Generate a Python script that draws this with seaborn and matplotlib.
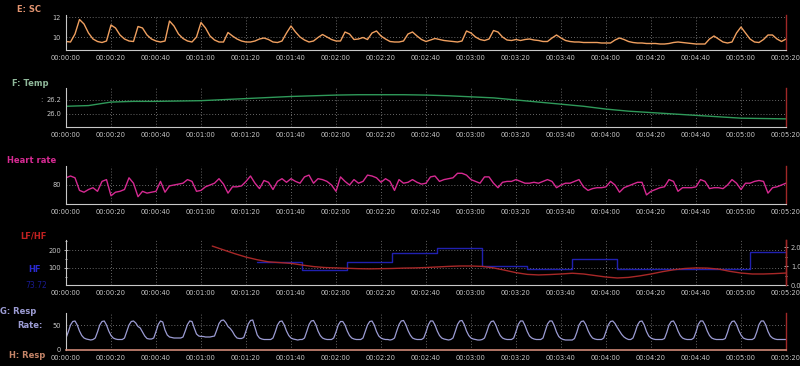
import numpy as np
import matplotlib
matplotlib.use("agg")
import matplotlib.pyplot as plt
from matplotlib.ticker import MultipleLocator, FixedLocator, FuncFormatter
import seaborn as sns

# --- data (time in seconds) ---
t_2s = np.arange(0, 321, 2)
t_1s = np.arange(0, 321)

sc = [
    9.55, 9.5, 10.3, 11.75, 11.3, 10.4, 9.8, 9.55, 9.45, 9.6,
    11.2, 10.9, 10.2, 9.8, 9.6, 9.55, 11.05, 10.9, 10.2, 9.8,
    9.6, 9.5, 9.6, 11.6, 11.1, 10.3, 9.85, 9.6, 9.5, 10.0,
    11.45, 10.9, 10.1, 9.7, 9.5, 9.5, 10.45, 10.1, 9.8, 9.6,
    9.5, 9.5, 9.6, 9.8, 9.9, 9.75, 9.5, 9.45, 9.6, 10.4,
    11.1, 10.5, 10.0, 9.7, 9.5, 9.6, 9.95, 10.25, 10.0, 9.75,
    9.6, 9.6, 10.5, 10.3, 9.75, 9.8, 9.95, 9.75, 10.4, 10.6,
    10.1, 9.8, 9.55, 9.5, 9.5, 9.6, 10.3, 10.5, 10.1, 9.75,
    9.55, 9.7, 9.85, 9.75, 9.65, 9.6, 9.55, 9.5, 9.6, 10.6,
    10.4, 10.0, 9.75, 9.65, 9.8, 10.65, 10.5, 10.0, 9.7, 9.65,
    9.75, 9.65, 9.75, 9.8, 9.7, 9.65, 9.55, 9.55, 9.9, 10.2,
    9.9, 9.65, 9.55, 9.5, 9.5, 9.45, 9.45, 9.45, 9.45, 9.4,
    9.4, 9.4, 9.7, 9.9, 9.75, 9.55, 9.45, 9.4, 9.4, 9.35,
    9.35, 9.35, 9.3, 9.3, 9.35, 9.45, 9.5, 9.45, 9.4, 9.35,
    9.3, 9.3, 9.3, 9.8, 10.1, 9.8, 9.5, 9.4, 9.5, 10.4,
    11.0, 10.4, 9.8, 9.5, 9.45, 9.75, 10.2, 10.2, 9.8, 9.55,
    9.8,
]

temp_t = np.arange(0, 321, 10)
temp = [
    26.11, 26.12, 26.17, 26.18, 26.18, 26.185, 26.19, 26.205, 26.22, 26.235,
    26.25, 26.26, 26.27, 26.275, 26.275, 26.275, 26.27, 26.26, 26.245, 26.23,
    26.2, 26.17, 26.14, 26.11, 26.07, 26.04, 26.02, 26.0, 25.98, 25.96,
    25.94, 25.935, 25.93,
]

hr = [
    88, 90, 88, 74, 72, 75, 77, 73, 84, 86,
    68, 72, 73, 75, 88, 82, 67, 73, 71, 72,
    73, 84, 72, 79, 80, 81, 82, 86, 84, 73,
    74, 78, 80, 82, 87, 81, 71, 78, 78, 79,
    84, 90, 82, 76, 85, 83, 75, 84, 87, 83,
    87, 84, 82, 89, 91, 82, 87, 86, 84, 80,
    73, 89, 84, 80, 86, 82, 84, 91, 90, 88,
    83, 87, 84, 74, 86, 82, 83, 86, 83, 81,
    82, 89, 90, 84, 86, 87, 88, 93, 93, 91,
    86, 84, 82, 89, 89, 82, 77, 83, 84, 84,
    86, 84, 82, 82, 83, 82, 84, 86, 84, 77,
    80, 82, 82, 84, 86, 78, 74, 76, 77, 77,
    78, 84, 80, 72, 77, 79, 81, 83, 83, 69,
    73, 75, 77, 78, 86, 84, 73, 77, 77, 77,
    78, 86, 84, 76, 77, 77, 76, 80, 86, 82,
    75, 82, 82, 84, 85, 84, 71, 77, 78, 80,
    82,
]

lfhf_t = np.arange(65, 321, 5)
lfhf = [
    2.05, 1.85, 1.65, 1.47, 1.33, 1.22, 1.18, 1.14, 1.05, 0.97,
    0.92, 0.9, 0.88, 0.86, 0.85, 0.86, 0.87, 0.89, 0.9, 0.92,
    0.95, 0.98, 1.0, 1.0, 0.98, 0.9, 0.78, 0.65, 0.56, 0.53,
    0.55, 0.58, 0.62, 0.58, 0.5, 0.42, 0.37, 0.4, 0.48, 0.58,
    0.7, 0.8, 0.87, 0.9, 0.89, 0.84, 0.72, 0.63, 0.58, 0.58,
    0.6, 0.63,
]

hf_t = [85, 105, 125, 145, 165, 185, 205, 225, 245, 304, 320]
hf = [133, 89, 133, 183, 211, 111, 94, 150, 94, 189, 189]

resp = [
    24, 36, 50, 57, 58, 50, 38, 29, 24, 22, 21, 20, 21, 24, 36, 50, 57, 58, 50, 38,
    29, 24, 22, 21, 21, 21, 24, 37, 50, 57, 58, 54, 47, 44, 36, 28, 23, 22, 22, 24,
    37, 51, 58, 56, 40, 30, 26, 25, 24, 24, 24, 24, 26, 38, 51, 58, 57, 44, 32, 28,
    27, 27, 26, 26, 26, 27, 28, 40, 53, 59, 60, 55, 47, 43, 37, 29, 24, 23, 23, 25,
    38, 52, 59, 60, 45, 30, 24, 22, 21, 21, 21, 21, 24, 36, 50, 57, 58, 50, 38, 29,
    24, 22, 21, 20, 21, 21, 24, 37, 51, 58, 59, 51, 38, 29, 24, 22, 21, 21, 21, 24,
    36, 50, 57, 57, 50, 38, 29, 24, 22, 21, 21, 21, 24, 37, 50, 57, 58, 50, 37, 28,
    24, 22, 21, 21, 20, 21, 24, 38, 51, 58, 59, 51, 39, 30, 24, 22, 21, 21, 21, 24,
    36, 50, 58, 58, 50, 38, 29, 24, 22, 21, 20, 21, 24, 37, 51, 58, 59, 51, 38, 29,
    24, 22, 21, 20, 20, 21, 24, 36, 50, 57, 58, 50, 38, 29, 24, 22, 21, 21, 21, 24,
    37, 51, 58, 58, 49, 37, 28, 24, 22, 21, 21, 21, 24, 38, 52, 58, 58, 49, 36, 27,
    23, 21, 20, 20, 20, 20, 23, 35, 50, 57, 58, 51, 39, 30, 24, 22, 21, 21, 21, 24,
    37, 50, 57, 58, 53, 45, 38, 31, 26, 23, 21, 21, 24, 36, 50, 57, 58, 50, 37, 28,
    24, 22, 21, 21, 21, 21, 23, 35, 50, 57, 58, 50, 38, 29, 24, 22, 21, 21, 21, 24,
    36, 51, 58, 58, 50, 38, 29, 24, 22, 21, 21, 21, 21, 23, 35, 50, 57, 58, 51, 39,
    30, 24, 22, 21, 21, 21, 24, 36, 51, 58, 58, 50, 37, 28, 24, 22, 21, 21, 21, 21,
    21,
]

# --- styling ---
sns.set_style("dark", {"axes.facecolor": "black", "figure.facecolor": "black"})
plt.rcParams["font.family"] = ["DejaVu Sans"]

W, H = 800, 366
TICK_C = "#c8c8c8"
GRID_C = "#8a8a8a"
CURSOR_C = "#a02828"


def box(x0, y0, x1, y1):
    return [x0 / W, 1 - y1 / H, (x1 - x0) / W, (y1 - y0) / H]


def hms(v, pos=None):
    v = int(round(v))
    return f"00:{v // 60:02d}:{v % 60:02d}"


def style_axes(ax, ylim, ymajor, yminor, yfmt):
    ax.set_xlim(0, 320)
    ax.set_ylim(*ylim)
    ax.set_facecolor("black")
    ax.xaxis.set_major_locator(MultipleLocator(20))
    ax.xaxis.set_minor_locator(MultipleLocator(10))
    ax.xaxis.set_major_formatter(FuncFormatter(hms))
    ax.yaxis.set_major_locator(FixedLocator(ymajor))
    ax.yaxis.set_minor_locator(MultipleLocator(yminor))
    ax.yaxis.set_major_formatter(FuncFormatter(yfmt))
    ax.tick_params(axis="both", which="both", colors=TICK_C, direction="inout",
                   labelsize=4.8, length=3, width=0.6, pad=2)
    ax.tick_params(axis="both", which="minor", length=2)
    ax.grid(True, which="major", color=GRID_C, linestyle=(0, (1, 2.5)), linewidth=0.6)
    for side in ["left", "bottom"]:
        ax.spines[side].set_color(TICK_C)
        ax.spines[side].set_linewidth(0.8)
        ax.spines[side].set_visible(True)
    ax.spines["top"].set_visible(False)
    ax.spines["right"].set_visible(True)
    ax.spines["right"].set_color(CURSOR_C)
    ax.spines["right"].set_linewidth(1.0)
    ax.set_xlabel("")
    ax.set_ylabel("")


fig = plt.figure(figsize=(8, 3.66), dpi=100)
fig.patch.set_facecolor("black")

# E: SC
ax1 = fig.add_axes(box(66, 15, 786, 50))
sns.lineplot(x=t_2s, y=sc, ax=ax1, color="#f0a060", linewidth=1.0)
style_axes(ax1, (8.7, 12.2), [10, 12], 1, lambda v, p: f"{v:.0f}")
fig.text(17 / W, 1 - 10 / H, "E: SC", color="#e39470", fontsize=6, weight="bold", va="center")

# F: Temp
ax2 = fig.add_axes(box(66, 88, 786, 127))
sns.lineplot(x=temp_t, y=temp, ax=ax2, color="#2f9a5a", linewidth=1.0)
style_axes(ax2, (25.814, 26.371), [26.0, 26.2], 0.1, lambda v, p: f"{v:.1f}")
fig.text(12 / W, 1 - 84 / H, "F: Temp", color="#8fb89a", fontsize=6, weight="bold", va="center")
fig.text(40 / W, 1 - 100 / H, ":", color="#909090", fontsize=5, va="center")

# Heart rate
ax3 = fig.add_axes(box(66, 166, 786, 204))
sns.lineplot(x=t_2s, y=hr, ax=ax3, color="#d62a92", linewidth=1.0)
style_axes(ax3, (58.9, 101.1), [80], 10, lambda v, p: f"{v:.0f}")
fig.text(7 / W, 1 - 161 / H, "Heart rate", color="#d62a92", fontsize=6, weight="bold", va="center")

# LF/HF (red, right axis) and HF (blue steps, left axis)
ax4 = fig.add_axes(box(66, 240, 786, 285))
sns.lineplot(x=hf_t, y=hf, ax=ax4, color="#2020b0", linewidth=1.0, drawstyle="steps-post")
style_axes(ax4, (5, 256), [100, 200], 50, lambda v, p: f"{v:.0f}")
ax4b = ax4.twinx()
sns.lineplot(x=lfhf_t, y=lfhf, ax=ax4b, color="#a82828", linewidth=1.0)
ax4b.set_ylim(0, 2.37)
ax4b.set_xlim(0, 320)
ax4b.yaxis.set_major_locator(FixedLocator([0, 1, 2]))
ax4b.yaxis.set_minor_locator(MultipleLocator(0.5))
ax4b.yaxis.set_major_formatter(FuncFormatter(lambda v, p: f"{v:.1f}"))
ax4b.tick_params(axis="y", which="both", colors=TICK_C, direction="inout",
                 labelsize=4.8, length=3, width=0.6, pad=2)
ax4b.tick_params(axis="y", which="minor", length=2)
ax4b.set_ylabel("")
ax4b.grid(False)
for side in ["left", "top", "bottom"]:
    ax4b.spines[side].set_visible(False)
ax4b.spines["right"].set_color(CURSOR_C)
ax4b.spines["right"].set_linewidth(1.0)
fig.text(20 / W, 1 - 236 / H, "LF/HF", color="#c02020", fontsize=6, weight="bold", va="center")
fig.text(28 / W, 1 - 270 / H, "HF", color="#2a2ad0", fontsize=6, weight="bold", va="center")
fig.text(25 / W, 1 - 285 / H, "73.72", color="#1a1a90", fontsize=5.5, va="center")

# G: Resp / H: Resp
ax5 = fig.add_axes(box(66, 313, 786, 350))
sns.lineplot(x=t_1s, y=resp, ax=ax5, color="#9c9cd4", linewidth=0.9)
style_axes(ax5, (0, 74), [0, 50], 25, lambda v, p: f"{v:.0f}")
ax5.spines["bottom"].set_color("#d08a78")
ax5.spines["bottom"].set_linewidth(1.2)
fig.text(0 / W, 1 - 312 / H, "G: Resp", color="#9c9cd4", fontsize=6, weight="bold", va="center")
fig.text(17 / W, 1 - 326 / H, "Rate:", color="#9c9cd4", fontsize=6, weight="bold", va="center")
fig.text(9 / W, 1 - 355 / H, "H: Resp", color="#c48468", fontsize=6, weight="bold", va="center")

fig.savefig("out.png", dpi=100, facecolor="black")
